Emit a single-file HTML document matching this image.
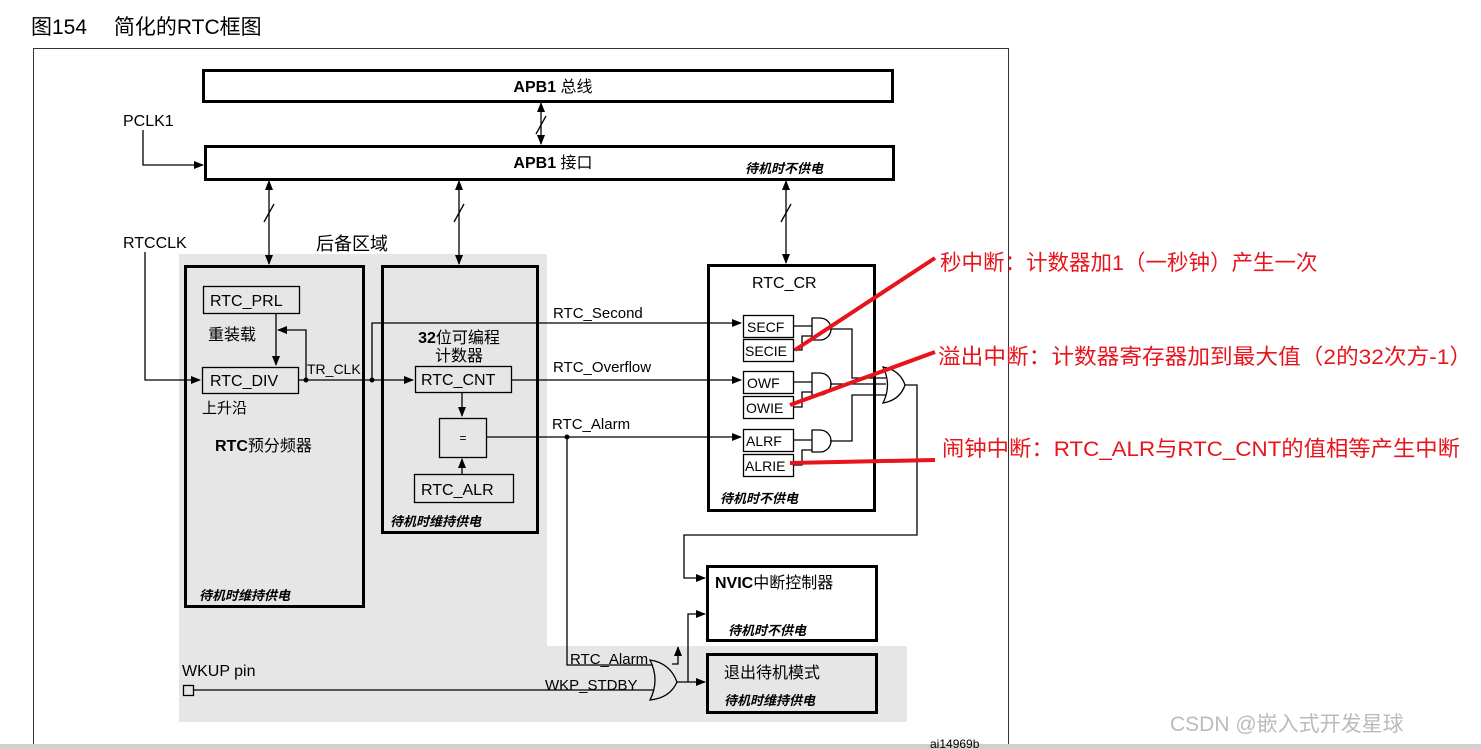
<!DOCTYPE html>
<html><head><meta charset="utf-8"><style>
html,body{margin:0;padding:0;background:#fff;width:1481px;height:749px;overflow:hidden}
svg{display:block}
text{font-family:"Liberation Sans","Noto Sans CJK SC",sans-serif;fill:#000}
.it{font-style:italic;font-size:13px;font-weight:bold}
.red{fill:#e8141c;font-size:21.5px}
</style></head><body>
<svg width="1481" height="749" viewBox="0 0 1481 749">
<defs>
<marker id="a" markerWidth="10" markerHeight="8" refX="9" refY="4" orient="auto" markerUnits="userSpaceOnUse"><path d="M0,0 L10,4 L0,8z" fill="#000"/></marker>
<marker id="b" markerWidth="10" markerHeight="8" refX="1" refY="4" orient="auto" markerUnits="userSpaceOnUse"><path d="M10,0 L0,4 L10,8z" fill="#000"/></marker>
</defs>
<text x="31" y="34" font-size="21">图154　 简化的RTC框图</text>
<rect x="33.5" y="48.5" width="975" height="700" fill="none" stroke="#333" stroke-width="1"/>
<rect x="0" y="744" width="1481" height="5" fill="#d0d0d0"/>
<polygon points="179,254 547,254 547,646 907,646 907,722 179,722" fill="#e6e6e6"/>
<g fill="none" stroke="#000">
<rect x="203.5" y="70.5" width="689" height="31" stroke-width="3" fill="#fff"/>
<rect x="205.5" y="146.5" width="688" height="33" stroke-width="3" fill="#fff"/>
<rect x="185.5" y="266.5" width="178" height="340" stroke-width="3"/>
<rect x="382.5" y="266.5" width="155" height="266" stroke-width="3"/>
<rect x="708.5" y="265.5" width="166" height="245" stroke-width="3" fill="#fff"/>
<rect x="707.5" y="566.5" width="169" height="74" stroke-width="3" fill="#fff"/>
<rect x="707.5" y="654.5" width="169" height="58" stroke-width="3"/>
<g stroke-width="1.3">
<rect x="203.5" y="286.5" width="96" height="27"/>
<rect x="202.5" y="367.5" width="96" height="26"/>
<rect x="415.5" y="366.5" width="96" height="26"/>
<rect x="439.5" y="418.5" width="47" height="39"/>
<rect x="414.5" y="474.5" width="99" height="28"/>
<rect x="743.5" y="315.5" width="50" height="22"/>
<rect x="743.5" y="339.5" width="50" height="22"/>
<rect x="743.5" y="371.5" width="50" height="22"/>
<rect x="743.5" y="396.5" width="50" height="22"/>
<rect x="743.5" y="429.5" width="50" height="22"/>
<rect x="743.5" y="454.5" width="50" height="22"/>
</g>
<g stroke-width="1.3">
<path d="M541,103 V144" marker-start="url(#b)" marker-end="url(#a)"/>
<path d="M269,181 V264" marker-start="url(#b)" marker-end="url(#a)"/>
<path d="M459,181 V264" marker-start="url(#b)" marker-end="url(#a)"/>
<path d="M786,181 V263" marker-start="url(#b)" marker-end="url(#a)"/>
<path d="M536,134 L546,116 M264,222 L274,204 M454,222 L464,204 M781,222 L791,204"/>
<path d="M143,130 V165 H203" marker-end="url(#a)"/>
<path d="M145,252 V380 H200" marker-end="url(#a)"/>
<path d="M276,313 V365" marker-end="url(#a)"/>
<path d="M306,380 V330 H278" marker-end="url(#a)"/>
<path d="M298,380 H413" marker-end="url(#a)"/>
<path d="M372,380 V323 H741" marker-end="url(#a)"/>
<path d="M511,380 H741" marker-end="url(#a)"/>
<path d="M486,437 H741" marker-end="url(#a)"/>
<path d="M462,392 V416" marker-end="url(#a)"/>
<path d="M462,474 V459" marker-end="url(#a)"/>
<path d="M567,437 V665 H652"/>
<path d="M193,690 H654"/>
<path d="M677,682 H705" marker-end="url(#a)"/>
<path d="M688,682 V614 H705" marker-end="url(#a)"/>
<path d="M672,664 H678 V647" marker-end="url(#a)"/>
<path d="M905,385 H917 V535 H684 V578 H705" marker-end="url(#a)"/>
<path d="M793,326 H812 M793,350 H802 V336 H812 M793,382 H812 M793,407 H802 V392 H812 M793,440 H812 M793,465 H802 V450 H812"/>
<path d="M830,329 H852 V378 H886 M830,384 H886 M830,441 H852 V395 H886"/>
<path d="M812,318 H820 A11,11 0 0 1 820,340 H812Z M812,373 H820 A11,11 0 0 1 820,395 H812Z M812,430 H820 A11,11 0 0 1 820,452 H812Z"/>
<path d="M883,367 Q900,370 905,385 Q900,400 883,403 Q892,385 883,367Z"/>
<path d="M650,660 Q670,663 677,682 Q670,698 650,700 Q660,680 650,660Z"/>
<rect x="183.5" y="685.5" width="10" height="10"/>
</g>
</g>
<circle cx="306" cy="380" r="2.5"/><circle cx="372" cy="380" r="2.5"/><circle cx="567" cy="437" r="2.5"/>
<g font-size="16">
<text x="553" y="92" text-anchor="middle" font-weight="bold">APB1 <tspan font-weight="normal">总线</tspan></text>
<text x="553" y="168" text-anchor="middle" font-weight="bold">APB1 <tspan font-weight="normal">接口</tspan></text>
<text x="123" y="126">PCLK1</text>
<text x="123" y="248">RTCCLK</text>
<text x="316" y="250" font-size="18">后备区域</text>
<text x="210" y="306">RTC_PRL</text>
<text x="208" y="340">重装载</text>
<text x="210" y="386">RTC_DIV</text>
<text x="202" y="413" font-size="15">上升沿</text>
<text x="215" y="451" font-weight="bold">RTC<tspan font-weight="normal">预分频器</tspan></text>
<text x="307" y="374" font-size="14">TR_CLK</text>
<text x="459" y="343" text-anchor="middle" font-weight="bold">32<tspan font-weight="normal">位可编程</tspan></text>
<text x="459" y="361" text-anchor="middle">计数器</text>
<text x="421" y="385">RTC_CNT</text>
<text x="463" y="442" text-anchor="middle" font-size="12">=</text>
<text x="421" y="495">RTC_ALR</text>
<text x="553" y="318" font-size="15">RTC_Second</text>
<text x="553" y="372" font-size="15">RTC_Overflow</text>
<text x="552" y="429" font-size="15">RTC_Alarm</text>
<text x="752" y="288">RTC_CR</text>
<g font-size="14"><text x="747" y="332">SECF</text><text x="745" y="356">SECIE</text><text x="747" y="388">OWF</text><text x="746" y="413">OWIE</text><text x="746" y="446">ALRF</text><text x="745" y="471">ALRIE</text></g>
<text x="715" y="588" font-weight="bold">NVIC<tspan font-weight="normal">中断控制器</tspan></text>
<text x="724" y="678">退出待机模式</text>
<text x="182" y="676">WKUP pin</text>
<text x="545" y="690" font-size="15">WKP_STDBY</text>
<text x="570" y="664" font-size="15">RTC_Alarm</text>
</g>
<text class="it" x="745" y="173">待机时不供电</text>
<text class="it" x="720" y="503">待机时不供电</text>
<text class="it" x="390" y="526">待机时维持供电</text>
<text class="it" x="199" y="600">待机时维持供电</text>
<text class="it" x="728" y="635">待机时不供电</text>
<text class="it" x="724" y="705">待机时维持供电</text>
<text x="930" y="748" font-size="12">ai14969b</text>
<g stroke="#e8141c" stroke-width="4">
<line x1="795" y1="350" x2="935" y2="258"/>
<line x1="790" y1="405" x2="935" y2="352"/>
<line x1="790" y1="463" x2="935" y2="460"/>
</g>
<text class="red" x="940" y="270">秒中断：计数器加1（一秒钟）产生一次</text>
<text class="red" x="938" y="364" textLength="534" lengthAdjust="spacingAndGlyphs">溢出中断：计数器寄存器加到最大值（2的32次方-1）</text>
<text class="red" x="942" y="456" textLength="518" lengthAdjust="spacingAndGlyphs">闹钟中断：RTC_ALR与RTC_CNT的值相等产生中断</text>
<text x="1170" y="731" font-size="21" style="fill:#bbb">CSDN @嵌入式开发星球</text>
</svg>
</body></html>
